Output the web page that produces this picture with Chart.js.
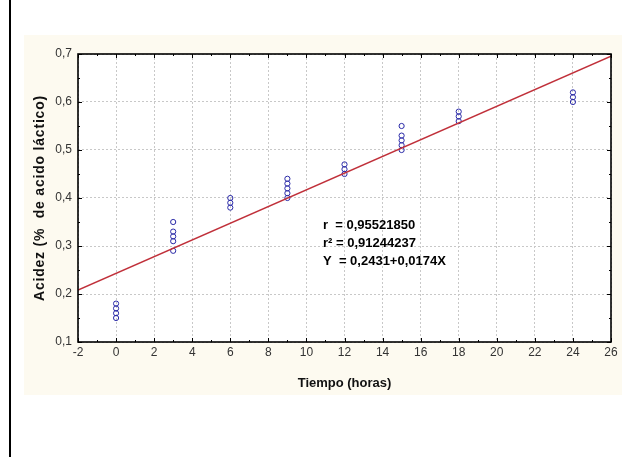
<!DOCTYPE html>
<html><head><meta charset="utf-8">
<script src="https://cdn.jsdelivr.net/npm/chart.js@4.4.0/dist/chart.umd.min.js"></script>
<style>html,body{margin:0;padding:0;background:#fff;}#wrap{position:absolute;left:0;top:0;width:630px;height:457px;}</style>
</head><body><div id="wrap"><canvas id="c" width="630" height="457"></canvas></div>
<script>
const timeHours = [0,0,0,0, 3,3,3,3,3, 6,6,6, 9,9,9,9,9, 12,12,12, 15,15,15,15,15, 18,18,18, 24,24,24];
const acidity   = [0.15,0.16,0.17,0.18, 0.29,0.31,0.32,0.33,0.35, 0.38,0.39,0.40, 0.40,0.41,0.42,0.43,0.44, 0.45,0.46,0.47, 0.50,0.51,0.52,0.53,0.55, 0.56,0.57,0.58, 0.60,0.61,0.62];
const fitX = [-2, 26];
const fitY = [0.2083, 0.6955];
const xTicks = [-2,0,2,4,6,8,10,12,14,16,18,20,22,24,26];
const yTicks = [0.1,0.2,0.3,0.4,0.5,0.6,0.7];
const statLines = ['r  = 0,95521850', 'r\u00B2 = 0,91244237', 'Y  = 0,2431+0,0174X'];
const xTitle = 'Tiempo (horas)';
const yTitle = 'Acidez (%  de acido l\u00E1ctico)';

const FONT = "'Liberation Sans', Arial, sans-serif";

const bgPlugin = {
  id: 'bg',
  beforeDraw(chart) {
    const ctx = chart.ctx, a = chart.chartArea;
    ctx.save();
    ctx.fillStyle = '#ffffff';
    ctx.fillRect(0, 0, chart.width, chart.height);
    ctx.fillStyle = '#fdfaf0';
    ctx.fillRect(24, 35, 598, 360);
    ctx.fillStyle = '#ffffff';
    ctx.fillRect(a.left, a.top, a.right - a.left, a.bottom - a.top);
    ctx.fillStyle = '#000000';
    ctx.fillRect(9, 0, 2, chart.height);
    ctx.restore();
  }
};

const framePlugin = {
  id: 'frame',
  afterDraw(chart) {
    const ctx = chart.ctx, a = chart.chartArea;
    const xs = chart.scales.x, ys = chart.scales.y;
    ctx.save();
    ctx.strokeStyle = '#000';
    ctx.lineWidth = 1;
    ctx.beginPath();
    for (let v = -2; v <= 26; v += 1) {
      const px = Math.round(xs.getPixelForValue(v)) + 0.5;
      const len = (v % 2 === 0) ? 4 : 2;
      ctx.moveTo(px, a.bottom); ctx.lineTo(px, a.bottom - len);
      ctx.moveTo(px, a.top); ctx.lineTo(px, a.top + len);
    }
    for (let i = 0; i <= 12; i++) {
      const v = 0.1 + i * 0.05;
      const py = Math.round(ys.getPixelForValue(v)) + 0.5;
      const len = (i % 2 === 0) ? 4 : 2;
      ctx.moveTo(a.left, py); ctx.lineTo(a.left + len, py);
      ctx.moveTo(a.right, py); ctx.lineTo(a.right - len, py);
    }
    ctx.stroke();
    ctx.lineWidth = 1.6;
    ctx.strokeRect(a.left, a.top, a.right - a.left, a.bottom - a.top);
    ctx.fillStyle = '#000';
    ctx.font = "bold 13px " + FONT;
    ctx.textBaseline = 'middle';
    ctx.textAlign = 'left';
    statLines.forEach((t, i) => ctx.fillText(t, 323, 225 + i * 18));
    // y axis title
    ctx.fillStyle = '#111';
    ctx.font = "bold 14px " + FONT;
    ctx.letterSpacing = '0.8px';
    ctx.translate(40, (a.top + a.bottom) / 2);
    ctx.rotate(-Math.PI / 2);
    ctx.textAlign = 'center';
    ctx.fillText(yTitle, 0, 0);
    ctx.restore();
  }
};

new Chart(document.getElementById('c'), {
  data: {
    datasets: [
      {
        type: 'line',
        data: fitX.map((x, i) => ({x: x, y: fitY[i]})),
        borderColor: '#c0303a',
        borderWidth: 1.5,
        pointRadius: 0,
        fill: false,
        order: 1
      },
      {
        type: 'scatter',
        data: timeHours.map((x, i) => ({x: x, y: acidity[i]})),
        pointStyle: 'circle',
        pointRadius: 2.6,
        borderWidth: 1,
        borderColor: '#2a2aa8',
        backgroundColor: 'rgba(255,255,255,0)',
        order: 2
      }
    ]
  },
  options: {
    responsive: false,
    animation: false,
    events: [],
    layout: {padding: {left: 24, top: 54, right: 19, bottom: 62}},
    plugins: {legend: {display: false}, tooltip: {enabled: false}},
    scales: {
      x: {
        type: 'linear',
        position: 'bottom',
        min: -2, max: 26,
        afterBuildTicks: s => { s.ticks = xTicks.map(v => ({value: v})); },
        afterFit: s => { s.height = 53; },
        ticks: {
          color: '#333',
          font: {family: FONT, size: 12},
          padding: 3,
          autoSkip: false,
          maxRotation: 0,
          callback: v => String(v)
        },
        grid: {color: '#c8c8c8', lineWidth: 1, drawTicks: false},
        border: {display: false, dash: [2, 2]},
        title: {
          display: true,
          text: xTitle,
          color: '#111',
          font: {family: FONT, size: 13, weight: 'bold'},
          padding: {top: 0, bottom: 4}
        }
      },
      y: {
        type: 'linear',
        position: 'left',
        min: 0.1, max: 0.7,
        afterBuildTicks: s => { s.ticks = yTicks.map(v => ({value: v})); },
        afterFit: s => { s.width = 54; },
        ticks: {
          color: '#333',
          font: {family: FONT, size: 12},
          padding: 6,
          autoSkip: false,
          callback: v => (Math.round(v * 10) / 10).toFixed(1).replace('.', ',')
        },
        grid: {color: '#c8c8c8', lineWidth: 1, drawTicks: false},
        border: {display: false, dash: [2, 2]},
        title: {display: false}
      }
    }
  },
  plugins: [bgPlugin, framePlugin]
});
</script>
</body></html>
